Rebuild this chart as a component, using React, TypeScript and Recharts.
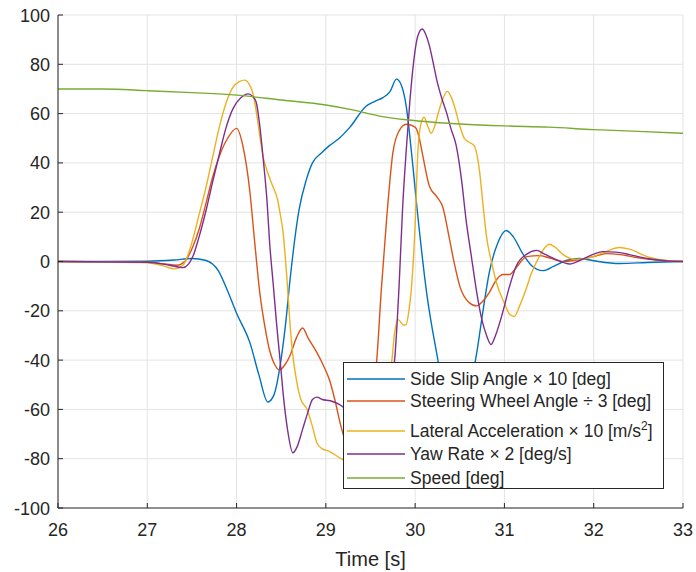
import { LineChart, Line, XAxis, YAxis, CartesianGrid, Legend } from "recharts";

// [time s, value] samples per channel
const sideSlip = [
  [26, 0], [26.5, 0], [27, 0.1], [27.3, 0.6], [27.5, 1.2], [27.65, 0.5], [27.8, -4], [27.9, -12],
  [28.0, -21], [28.15, -33], [28.25, -46], [28.35, -57], [28.42, -54], [28.48, -44], [28.55, -25],
  [28.6, -7], [28.7, 21], [28.78, 33], [28.85, 40], [28.95, 44], [29.04, 47], [29.15, 50],
  [29.27, 54.5], [29.45, 63], [29.55, 65], [29.64, 66.5], [29.72, 69], [29.79, 74], [29.84, 72],
  [29.9, 63], [29.96, 44], [30.02, 22], [30.13, -13], [30.24, -37], [30.35, -57], [30.46, -66],
  [30.57, -58], [30.69, -37], [30.76, -20], [30.83, -4.5], [30.92, 7], [31.02, 12.6], [31.1, 10],
  [31.2, 3.5], [31.3, -1.5], [31.43, -3.7], [31.55, -2], [31.7, 0.5], [31.84, 1.2], [32.0, 0.3],
  [32.29, -0.8], [32.6, -0.4], [33, 0],
];

const steering = [
  [26, 0], [27, -0.3], [27.2, -1], [27.33, -1.5], [27.42, 0], [27.51, 6], [27.58, 13], [27.66, 24],
  [27.73, 34], [27.81, 43], [27.9, 50], [28.0, 54], [28.07, 47], [28.15, 28], [28.2, 9],
  [28.26, -12.6], [28.32, -27], [28.37, -36], [28.43, -42], [28.48, -44], [28.54, -42], [28.6, -38],
  [28.67, -31], [28.74, -27], [28.8, -31], [28.9, -37], [28.97, -42], [29.04, -48], [29.1, -56],
  [29.17, -67], [29.25, -76], [29.35, -79], [29.44, -72], [29.5, -58], [29.57, -40], [29.62, -12],
  [29.68, 17], [29.75, 44], [29.82, 53], [29.9, 55.7], [30.0, 54.5], [30.04, 51], [30.08, 44],
  [30.16, 30.5], [30.24, 26.4], [30.31, 22], [30.38, 10], [30.44, -1], [30.5, -10], [30.6, -16.5],
  [30.69, -18], [30.76, -16], [30.83, -12.6], [30.9, -8], [30.98, -5.3], [31.06, -5.3], [31.12, -3],
  [31.25, 2], [31.39, 2.4], [31.5, 1.5], [31.65, 0], [31.8, 0.5], [32.0, 2], [32.14, 3.2],
  [32.3, 2.8], [32.5, 1.5], [32.7, 0.6], [33, 0],
];

const lateralAcc = [
  [26, 0], [27, -0.5], [27.2, -2], [27.3, -3], [27.4, -1.5], [27.51, 9], [27.58, 19], [27.66, 30.5],
  [27.73, 42], [27.81, 55], [27.88, 64], [27.96, 70.7], [28.03, 73], [28.09, 73.6], [28.14, 72],
  [28.18, 68.6], [28.22, 61], [28.26, 51], [28.3, 42], [28.34, 37], [28.4, 31], [28.46, 25],
  [28.49, 19], [28.52, 12], [28.56, -5], [28.6, -26], [28.63, -38], [28.67, -48], [28.72, -56],
  [28.79, -60], [28.85, -67], [28.9, -73.6], [28.96, -76], [29.04, -77], [29.17, -80], [29.3, -82],
  [29.45, -80], [29.55, -72], [29.65, -55], [29.74, -40], [29.77, -29], [29.81, -23.6],
  [29.87, -25.8], [29.9, -25.6], [29.93, -20], [29.96, -10], [30.0, 15], [30.03, 44], [30.06, 55],
  [30.1, 58.5], [30.14, 55], [30.18, 52], [30.22, 55], [30.25, 59], [30.3, 65], [30.36, 69],
  [30.4, 67], [30.44, 63], [30.5, 55], [30.55, 50], [30.6, 48.5], [30.66, 47], [30.72, 37],
  [30.76, 23], [30.8, 10], [30.86, -1], [30.91, -8.5], [31.0, -17], [31.06, -21.5], [31.11, -22.3],
  [31.17, -18], [31.24, -11.5], [31.3, -5], [31.39, 2], [31.45, 5.5], [31.5, 7], [31.56, 6],
  [31.65, 3], [31.8, 0.8], [31.95, 1.5], [32.1, 3.5], [32.29, 5.7], [32.4, 5], [32.6, 2],
  [32.8, 0.5], [33, 0],
];

const yawRate = [
  [26, 0], [27, -0.3], [27.25, -1.5], [27.4, -2.5], [27.51, 2], [27.58, 10], [27.66, 21], [27.73, 32],
  [27.81, 44], [27.88, 54], [27.96, 62], [28.05, 66.5], [28.13, 68], [28.18, 67], [28.22, 64.6],
  [28.26, 55], [28.3, 41], [28.34, 25], [28.37, 7.7], [28.41, -9], [28.45, -26], [28.49, -41],
  [28.52, -53], [28.57, -68], [28.63, -77.6], [28.68, -75], [28.74, -68], [28.8, -61], [28.85, -56],
  [28.9, -55], [28.96, -56], [29.05, -56.5], [29.15, -58], [29.3, -62], [29.45, -64], [29.58, -62],
  [29.68, -55], [29.73, -48], [29.77, -40], [29.82, -10], [29.86, 22], [29.9, 45], [29.94, 64.6],
  [29.98, 80], [30.03, 91.5], [30.08, 94.3], [30.12, 92], [30.16, 87.5], [30.2, 81], [30.24, 74],
  [30.3, 66], [30.35, 60.6], [30.4, 54], [30.46, 47], [30.52, 33], [30.57, 17], [30.63, 2],
  [30.69, -12.6], [30.75, -24], [30.8, -30], [30.85, -33.7], [30.9, -30], [30.98, -20.7],
  [31.05, -11], [31.13, -2], [31.25, 3], [31.36, 4.5], [31.45, 3], [31.58, 0.8], [31.73, -1],
  [31.85, 0.5], [32.0, 3], [32.1, 4], [32.25, 3.8], [32.4, 2.8], [32.6, 1.2], [32.8, 0.3], [33, 0],
];

const speed = [
  [26, 70], [26.5, 70], [27, 69.3], [27.5, 68.5], [28, 67.5], [28.5, 65.5], [29, 63.5], [29.3, 61.5],
  [29.6, 59], [29.9, 57.5], [30.2, 56.5], [30.5, 55.8], [31, 55], [31.5, 54.5], [32, 53.5],
  [32.5, 52.8], [33, 52],
];

const xTicks = [26, 27, 28, 29, 30, 31, 32, 33];
const yTicks = [-100, -80, -60, -40, -20, 0, 20, 40, 60, 80, 100];

const FONT = "'Liberation Sans', Arial, sans-serif";
const INK = "#262626";

const toRows = (pts: number[][]) => pts.map(([t, v]) => ({ t, v }));

const series = [
  { key: "slip", data: toRows(sideSlip), color: "#0072BD" },
  { key: "steer", data: toRows(steering), color: "#D95319" },
  { key: "lat", data: toRows(lateralAcc), color: "#EDB120" },
  { key: "yaw", data: toRows(yawRate), color: "#7E2F8E" },
  { key: "speed", data: toRows(speed), color: "#77AC30" },
];

const XTick = ({ x, y, payload }: any) => (
  <g>
    <line x1={x} x2={x} y1={y} y2={y - 5} stroke={INK} />
    <text x={x} y={y + 28} textAnchor="middle" fontSize={18} fontFamily={FONT} fill={INK}>
      {payload.value}
    </text>
  </g>
);

const YTick = ({ x, y, payload }: any) => (
  <g>
    <line x1={x} x2={x + 5} y1={y} y2={y} stroke={INK} />
    <text x={x - 8} y={y + 6.5} textAnchor="end" fontSize={18} fontFamily={FONT} fill={INK}>
      {payload.value}
    </text>
  </g>
);

const LegendRow = ({ swatch, children, pad = 0, h = 22 }: any) => (
  <div style={{ display: "flex", alignItems: "center", height: h, paddingTop: pad, whiteSpace: "nowrap" }}>
    <svg width={58} height={4} style={{ marginLeft: 3, marginRight: 5, display: "block" }}>
      <line x1={0} x2={58} y1={2} y2={2} stroke={swatch} strokeWidth={1.4} />
    </svg>
    <span>{children}</span>
  </div>
);

const LegendBox = () => (
  <div
    style={{
      width: "100%",
      height: "100%",
      boxSizing: "border-box",
      border: `1px solid ${INK}`,
      background: "#fff",
      paddingTop: 5,
      fontFamily: FONT,
      fontSize: 17.5,
      color: INK,
    }}
  >
    <LegendRow swatch="#0072BD">Side Slip Angle × 10 [deg]</LegendRow>
    <LegendRow swatch="#D95319">Steering Wheel Angle ÷ 3 [deg]</LegendRow>
    <LegendRow swatch="#EDB120" pad={8}>
      Lateral Acceleration × 10 [m/s<sup style={{ fontSize: 12, lineHeight: 0 }}>2</sup>]
    </LegendRow>
    <LegendRow swatch="#7E2F8E" h={24}>Yaw Rate × 2 [deg/s]</LegendRow>
    <LegendRow swatch="#77AC30" h={24}>Speed [deg]</LegendRow>
  </div>
);

export default function App() {
  return (
    <div style={{ position: "absolute", left: 0, top: 0, width: 696, height: 572, background: "#fff" }}>
      <LineChart width={696} height={572} margin={{ top: 15, right: 13, bottom: 0, left: 0 }}>
        <CartesianGrid stroke="#e3e3e3" />
        <XAxis
          type="number"
          dataKey="t"
          domain={[26, 33]}
          ticks={xTicks}
          allowDataOverflow
          height={64}
          tickSize={0}
          tickMargin={0}
          tick={<XTick />}
          axisLine={{ stroke: "#6e6e6e", strokeWidth: 1.5 }}
          label={{ value: "Time [s]", position: "insideBottom", offset: 6, fontSize: 20, fontFamily: FONT, fill: INK }}
        />
        <YAxis
          type="number"
          domain={[-100, 100]}
          ticks={yTicks}
          allowDataOverflow
          width={58}
          tickSize={0}
          tickMargin={0}
          tick={<YTick />}
          axisLine={{ stroke: INK }}
        />
        {series.map((s) => (
          <Line
            key={s.key}
            data={s.data}
            dataKey="v"
            type="monotone"
            stroke={s.color}
            strokeWidth={1.4}
            dot={false}
            activeDot={false}
            isAnimationActive={false}
          />
        ))}
        <Legend
          layout="vertical"
          align="center"
          verticalAlign="middle"
          content={<LegendBox />}
          wrapperStyle={{ position: "absolute", left: 343, top: 362, width: 321, height: 127 }}
        />
      </LineChart>
    </div>
  );
}
